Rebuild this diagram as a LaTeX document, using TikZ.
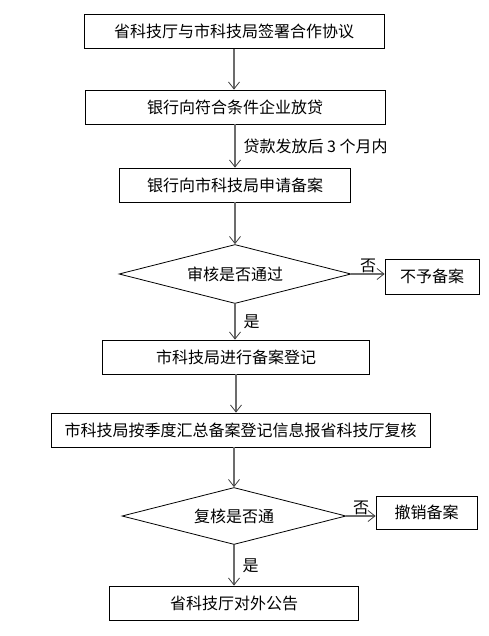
\documentclass[tikz,border=0pt]{standalone}
\usepackage{fontspec}
\setmainfont{Noto Sans CJK SC}
\usepackage{tikz}
\usetikzlibrary{shapes.geometric}
\usetikzlibrary{arrows.meta}

\begin{document}
\begin{tikzpicture}[x=1pt,y=-1pt,font=\fontsize{16}{19}\selectfont,
box/.style={draw,line width=0.8pt,rectangle,inner sep=0pt,minimum height=34pt},
test/.style={draw,line width=0.8pt,diamond,aspect=4,inner sep=0pt},
arr/.style={-{Straight Barb[length=7pt,width=11pt,line width=0.8pt,color=black!75]},draw=gray!85!black,line width=1.2pt}]
\useasboundingbox (0,0) rectangle (489,636);
\draw 
(234,31.5) node[box,minimum width=300pt](sign){省科技厅与市科技局签署合作协议}
(235,107) node[box,minimum width=300pt](loan){银行向符合条件企业放贷}
(235,185) node[box,minimum width=231pt](apply){银行向市科技局申请备案}
(235,274) node[test,minimum width=232pt,minimum height=59pt](check){审核是否通过}
(432,276.5) node[box,minimum width=94pt,minimum height=35pt](refuse){不予备案}
(236,357) node[box,minimum width=267pt](record){市科技局进行备案登记}
(240.5,430) node[box,minimum width=379pt](report){市科技局按季度汇总备案登记信息报省科技厅复核}
(234,516) node[test,minimum width=224pt,minimum height=57pt](recheck){复核是否通}
(426.5,512.5) node[box,minimum width=101pt,minimum height=33pt](revoke){撤销备案}
(234,603) node[box,minimum width=249pt](notice){省科技厅对外公告}
;
\foreach \x/\y in {sign/loan, apply/check, record/report}{
\draw[arr](\x.south)--(\x.south |- \y.north);
}
\draw[arr](recheck.north |- report.south)--(recheck.north);
\foreach \x/\y/\l in {loan/apply/{贷款发放后 3 个月内}, check/record/{是}, recheck/notice/{是}}{
\draw[arr](\x.south)--node[right=6pt,inner sep=2pt]{\l}(\x.south |- \y.north);
}
\foreach \x/\y/\l in {check/refuse/{否}, recheck/revoke/{否}}{
\draw[arr](\x.east)--node[above,inner sep=1pt]{\l}(\x.east -| \y.west);
}
\end{tikzpicture}
\end{document}
